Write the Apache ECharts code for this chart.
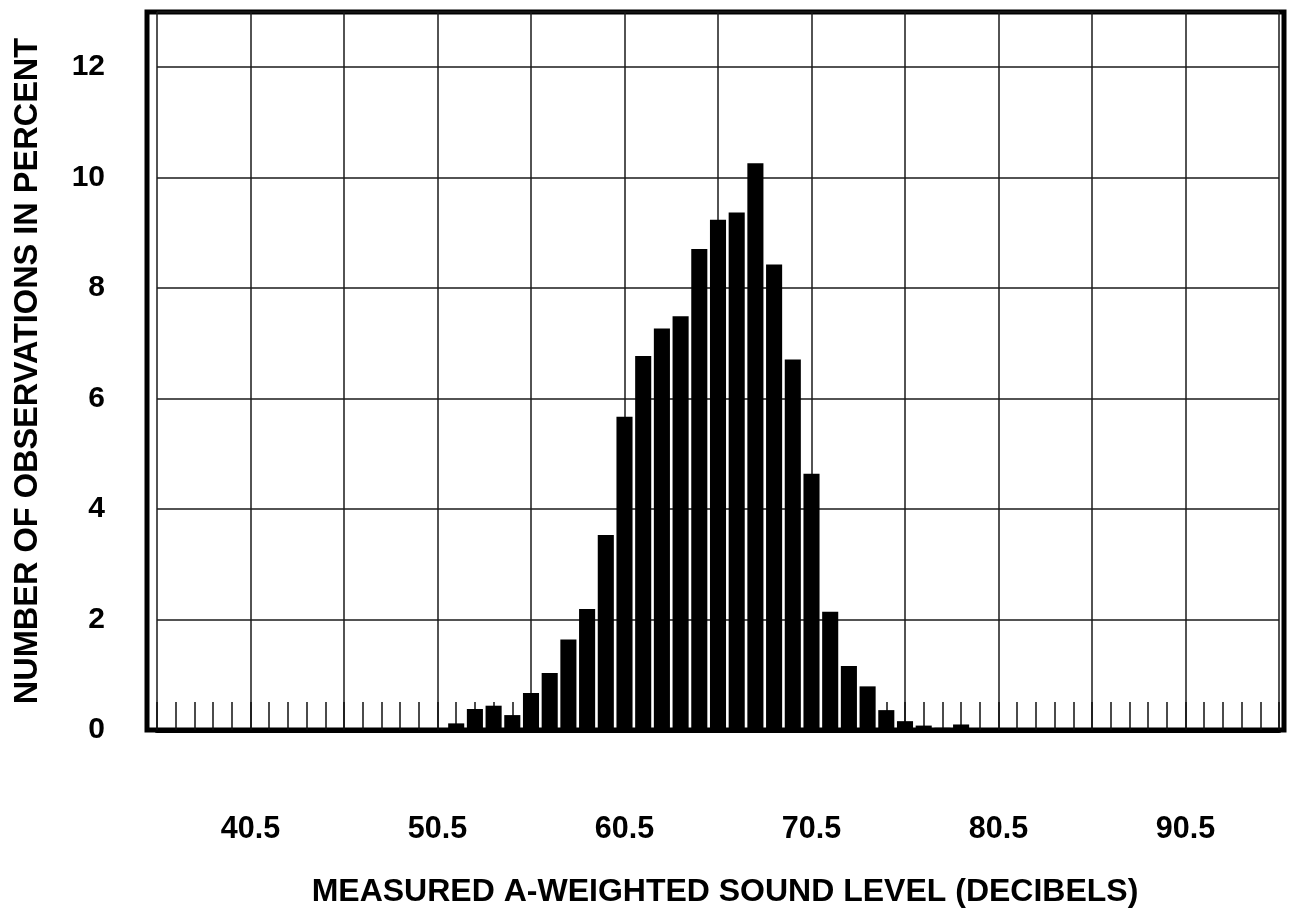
<!DOCTYPE html>
<html>
<head>
<meta charset="utf-8">
<script src="https://cdn.jsdelivr.net/npm/echarts@6/dist/echarts.min.js"></script>
<style>
html,body{margin:0;padding:0;background:#fff;}
#chart{width:1291px;height:914px;}
</style>
</head>
<body>
<div id="chart"></div>
<script>
// Bin centres (dB) and percentage of observations
const binCenters = [51.5, 52.5, 53.5, 54.5, 55.5, 56.5, 57.5, 58.5, 59.5, 60.5,
                    61.5, 62.5, 63.5, 64.5, 65.5, 66.5, 67.5, 68.5, 69.5, 70.5,
                    71.5, 72.5, 73.5, 74.5, 75.5, 76.5, 77.5, 78.5];
const percentObs = [0.12, 0.38, 0.44, 0.27, 0.67, 1.03, 1.64, 2.19, 3.53, 5.67,
                    6.77, 7.27, 7.49, 8.71, 9.24, 9.37, 10.26, 8.43, 6.71, 4.64,
                    2.14, 1.16, 0.79, 0.36, 0.16, 0.08, 0.04, 0.10];
const xTickLabels = ['40.5', '50.5', '60.5', '70.5', '80.5', '90.5'];
const yTickLabels = ['0', '2', '4', '6', '8', '10', '12'];
const xTitle = 'MEASURED A-WEIGHTED SOUND LEVEL (DECIBELS)';
const yTitle = 'NUMBER OF OBSERVATIONS IN PERCENT';

const FONT = "'Liberation Sans', Arial, Helvetica, sans-serif";
const seriesData = binCenters.map((x, i) => [x, percentObs[i]]);

const chart = echarts.init(document.getElementById('chart'), null, {renderer: 'canvas'});
chart.setOption({
  animation: false,
  backgroundColor: '#fff',
  grid: [
    {left: 157, right: 12, top: 12, bottom: 184, show: false},
    {left: 147, right: 7, top: 12, bottom: 184, show: true,
     borderColor: '#000', borderWidth: 5, backgroundColor: 'transparent'}
  ],
  xAxis: [{
    type: 'value', gridIndex: 0,
    min: 35.5, max: 95.5, interval: 5,
    name: xTitle, nameLocation: 'middle', nameGap: 146,
    nameTextStyle: {fontFamily: FONT, fontWeight: 'bold', fontSize: 32, color: '#000', padding: [0, 0, 0, 14]},
    axisLine: {show: true, onZero: false, lineStyle: {color: '#000', width: 5}},
    axisTick: {show: true, inside: true, length: 28, lineStyle: {color: '#111', width: 1.5}},
    minorTick: {show: true, splitNumber: 5, length: 28, lineStyle: {color: '#111', width: 1.5}},
    splitLine: {show: true, lineStyle: {color: '#1a1a1a', width: 1.5}},
    axisLabel: {
      margin: 84, fontFamily: FONT, fontWeight: 'bold', fontSize: 30.5, color: '#000',
      formatter: v => { const s = v.toFixed(1); return xTickLabels.includes(s) ? s : ''; }
    }
  }, {
    type: 'value', gridIndex: 1, show: false, min: 0, max: 1
  }],
  yAxis: [{
    type: 'value', gridIndex: 0,
    min: 0, max: 13, interval: 2,
    name: yTitle, nameLocation: 'middle', nameGap: 112, nameRotate: 90,
    nameTextStyle: {fontFamily: FONT, fontWeight: 'bold', fontSize: 32.5, color: '#000'},
    axisLine: {show: false},
    axisTick: {show: false},
    splitLine: {show: true, lineStyle: {color: '#1a1a1a', width: 1.5}},
    axisLabel: {
      margin: 52, fontFamily: FONT, fontWeight: 'bold', fontSize: 30, color: '#000',
      formatter: v => { const s = String(v); return yTickLabels.includes(s) ? s : ''; }
    }
  }, {
    type: 'value', gridIndex: 1, show: false, min: 0, max: 1
  }],
  series: [{
    type: 'bar',
    xAxisIndex: 0, yAxisIndex: 0,
    data: seriesData,
    barWidth: '86%',
    itemStyle: {color: '#000'},
    z: 3
  }]
});
</script>
</body>
</html>
